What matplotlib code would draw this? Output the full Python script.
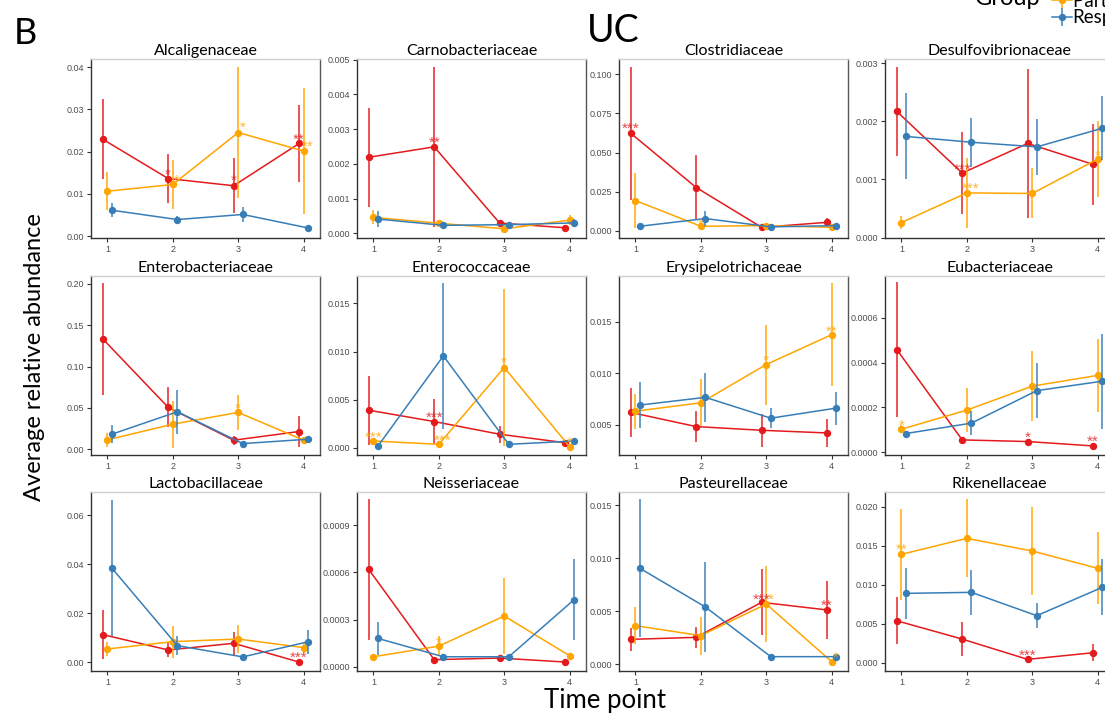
import numpy as np
import matplotlib.pyplot as plt
from matplotlib.colors import to_rgba

plt.rcParams['font.family'] = ['Lato', 'DejaVu Sans']

W, H = 1105, 720

TIME_POINTS = [1, 2, 3, 4]
GROUPS = ["Non-responder", "Partial responder", "Responder"]
GROUP_COLORS = ["#E41A1C", "#FFA500", "#377EB8"]
DODGE = [-0.07, 0.0, 0.07]

FAMILIES = ["Alcaligenaceae", "Carnobacteriaceae", "Clostridiaceae", "Desulfovibrionaceae",
            "Enterobacteriaceae", "Enterococcaceae", "Erysipelotrichaceae", "Eubacteriaceae",
            "Lactobacillaceae", "Neisseriaceae", "Pasteurellaceae", "Rikenellaceae"]

# mean relative abundance per group (rows: non-resp, partial, responder) and time point
alcaligenaceae_mean = [[0.0229, 0.0136, 0.0119, 0.0219],
                       [0.0106, 0.0122, 0.0245, 0.0201],
                       [0.0061, 0.0039, 0.0051, 0.0019]]
alcaligenaceae_se = [[0.0095, 0.0058, 0.0065, 0.0090],
                     [0.0045, 0.0057, 0.0154, 0.0149],
                     [0.0016, 0.0009, 0.0017, 0.0004]]

carnobacteriaceae_mean = [[0.00219, 0.00249, 0.000295, 0.00016],
                          [0.00046, 0.00029, 0.00013, 0.00038],
                          [0.00041, 0.00023, 0.00025, 0.00030]]
carnobacteriaceae_se = [[0.00143, 0.0023, 0.00005, 0.00002],
                        [0.00020, 0.00008, 0.00004, 0.00015],
                        [0.00023, 0.00005, 0.00007, 0.00010]]

clostridiaceae_mean = [[0.0623, 0.0277, 0.0023, 0.0055],
                       [0.0194, 0.0030, 0.0034, 0.0023],
                       [0.0030, 0.0079, 0.0026, 0.0034]]
clostridiaceae_se = [[0.0425, 0.0205, 0.0008, 0.0030],
                     [0.0175, 0.0015, 0.0010, 0.0008],
                     [0.0005, 0.0048, 0.0006, 0.0008]]

desulfovibrionaceae_mean = [[0.00217, 0.00111, 0.00162, 0.00126],
                            [0.00026, 0.00077, 0.00076, 0.00135],
                            [0.00174, 0.00164, 0.00156, 0.00188]]
desulfovibrionaceae_se = [[0.00077, 0.00070, 0.00128, 0.00070],
                          [0.00011, 0.00060, 0.00043, 0.00065],
                          [0.00074, 0.00042, 0.00048, 0.00055]]

enterobacteriaceae_mean = [[0.1335, 0.0507, 0.0110, 0.0215],
                           [0.0114, 0.0304, 0.0446, 0.0110],
                           [0.0183, 0.0454, 0.0069, 0.0122]]
enterobacteriaceae_se = [[0.0674, 0.0243, 0.0053, 0.0189],
                         [0.0088, 0.0285, 0.0210, 0.0035],
                         [0.0110, 0.0268, 0.0020, 0.0040]]

enterococcaceae_mean = [[0.0039, 0.00272, 0.0014, 0.00052],
                        [0.0007, 0.00035, 0.00834, 0.0001],
                        [0.00017, 0.00955, 0.00035, 0.0007]]
enterococcaceae_se = [[0.0036, 0.0023, 0.0009, 0.0003],
                      [0.0003, 0.0001, 0.0082, 0.00005],
                      [0.0001, 0.0076, 0.0001, 0.0003]]

erysipelotrichaceae_mean = [[0.00618, 0.0048, 0.00444, 0.00418],
                            [0.0063, 0.00712, 0.01085, 0.01376],
                            [0.0069, 0.00765, 0.00562, 0.0066]]
erysipelotrichaceae_se = [[0.0024, 0.0015, 0.0016, 0.0014],
                          [0.0017, 0.0023, 0.0039, 0.0050],
                          [0.0022, 0.0024, 0.0010, 0.0016]]

eubacteriaceae_mean = [[0.000458, 0.0000553, 0.000048, 0.0000284],
                       [0.000103, 0.000188, 0.000295, 0.000343],
                       [0.0000838, 0.00013, 0.000275, 0.000317]]
eubacteriaceae_se = [[0.0003, 0.000005, 0.000005, 0.000004],
                     [0.000018, 0.0000975, 0.000155, 0.000162],
                     [0.00001, 0.000055, 0.000124, 0.000211]]

lactobacillaceae_mean = [[0.0113, 0.00503, 0.00776, 0.0001],
                         [0.00544, 0.00843, 0.0095, 0.0060],
                         [0.0384, 0.0068, 0.0022, 0.0084]]
lactobacillaceae_se = [[0.0101, 0.0027, 0.0048, 0.0003],
                       [0.0030, 0.0065, 0.0059, 0.0023],
                       [0.0277, 0.0040, 0.0005, 0.0049]]

neisseriaceae_mean = [[0.000618, 0.000045, 0.000055, 0.00003],
                      [0.0000635, 0.000131, 0.000322, 0.00007],
                      [0.00018, 0.0000635, 0.0000635, 0.000427]]
neisseriaceae_se = [[0.000447, 0.00001, 0.00001, 0.000005],
                    [0.000008, 0.0000615, 0.000244, 0.000008],
                    [0.000104, 0.000008, 0.000008, 0.000259]]

pasteurellaceae_mean = [[0.00235, 0.00254, 0.00584, 0.00512],
                        [0.00364, 0.0027, 0.00568, 0.00025],
                        [0.00904, 0.0054, 0.00072, 0.00072]]
pasteurellaceae_se = [[0.0011, 0.0010, 0.0031, 0.0027],
                      [0.00175, 0.0018, 0.0036, 0.0001],
                      [0.0065, 0.0042, 0.0001, 0.0001]]

rikenellaceae_mean = [[0.00538, 0.00303, 0.00043, 0.00128],
                      [0.01389, 0.01594, 0.01432, 0.0121],
                      [0.00889, 0.00902, 0.00603, 0.00966]]
rikenellaceae_se = [[0.0030, 0.0022, 0.0002, 0.0011],
                    [0.0058, 0.0050, 0.0057, 0.0046],
                    [0.0033, 0.0029, 0.0016, 0.0036]]

MEANS = [alcaligenaceae_mean, carnobacteriaceae_mean, clostridiaceae_mean, desulfovibrionaceae_mean,
         enterobacteriaceae_mean, enterococcaceae_mean, erysipelotrichaceae_mean, eubacteriaceae_mean,
         lactobacillaceae_mean, neisseriaceae_mean, pasteurellaceae_mean, rikenellaceae_mean]
SES = [alcaligenaceae_se, carnobacteriaceae_se, clostridiaceae_se, desulfovibrionaceae_se,
       enterobacteriaceae_se, enterococcaceae_se, erysipelotrichaceae_se, eubacteriaceae_se,
       lactobacillaceae_se, neisseriaceae_se, pasteurellaceae_se, rikenellaceae_se]

# free y scales: limits, ticks and decimals per family
Y_LIMITS = [(-0.00047, 0.0419), (-0.000135, 0.00502), (-0.0045, 0.1097), (-0.000005, 0.00307),
            (-0.0069, 0.2096), (-0.00076, 0.01786), (0.00203, 0.01948), (-0.000012, 0.000786),
            (-0.00355, 0.0695), (-0.000027, 0.00111), (-0.00063, 0.01623), (-0.00106, 0.02188)]
Y_TICKS = [[0, 0.01, 0.02, 0.03, 0.04], [0, 0.001, 0.002, 0.003, 0.004, 0.005],
           [0, 0.025, 0.05, 0.075, 0.1], [0, 0.001, 0.002, 0.003],
           [0, 0.05, 0.1, 0.15, 0.2], [0, 0.005, 0.01, 0.015],
           [0.005, 0.01, 0.015], [0, 0.0002, 0.0004, 0.0006],
           [0, 0.02, 0.04, 0.06], [0, 0.0003, 0.0006, 0.0009],
           [0, 0.005, 0.01, 0.015], [0, 0.005, 0.01, 0.015, 0.02]]
Y_DECIMALS = [2, 3, 3, 3, 2, 3, 3, 4, 2, 4, 3, 3]

# significance marks: (family index, group index, time point, y, label)
STARS = [
    (0, 0, 2, 0.0155, "*"), (0, 0, 3, 0.0140, "*"), (0, 0, 4, 0.0237, "**"),
    (0, 1, 2, 0.0142, "*"), (0, 1, 3, 0.0266, "*"), (0, 1, 4, 0.0221, "**"),
    (1, 0, 2, 0.00274, "**"),
    (2, 0, 1, 0.0677, "***"), (2, 1, 2, 0.0065, "*"),
    (3, 0, 2, 0.00124, "***"), (3, 1, 2, 0.00092, "***"), (3, 1, 4, 0.00148, "*"),
    (4, 1, 3, 0.0548, "*"),
    (5, 0, 2, 0.00356, "***"), (5, 1, 1, 0.0015, "***"), (5, 1, 2, 0.00115, "***"),
    (5, 1, 3, 0.00925, "*"), (5, 1, 4, 0.00098, "*"),
    (6, 1, 3, 0.01167, "*"), (6, 1, 4, 0.01451, "**"),
    (7, 1, 1, 0.000138, "*"), (7, 0, 3, 0.0000853, "*"), (7, 0, 4, 0.0000658, "**"),
    (8, 0, 4, 0.0037, "***"),
    (9, 1, 2, 0.00018, "*"),
    (10, 0, 3, 0.00653, "***"), (10, 1, 3, 0.00653, "*"), (10, 0, 4, 0.0059, "**"),
    (10, 1, 4, 0.00104, "*"),
    (11, 1, 1, 0.0150, "**"), (11, 0, 3, 0.00141, "***"),
]

# panel grid in pixels
COL_LEFT = [91, 357, 619, 885]
ROW_TOP = [59, 276, 492]
PANEL_W, PANEL_H = 229, 179

fig = plt.figure(figsize=(W / 100, H / 100), dpi=100)

handles = None
for k, fam in enumerate(FAMILIES):
    row, col = divmod(k, 4)
    left, top = COL_LEFT[col], ROW_TOP[row]
    ax = fig.add_axes([left / W, 1 - (top + PANEL_H) / H, PANEL_W / W, PANEL_H / H])

    conts = []
    for g in range(3):
        x = np.array(TIME_POINTS) + DODGE[g]
        c = ax.errorbar(x, MEANS[k][g], yerr=SES[k][g], fmt='-o', color=GROUP_COLORS[g],
                        ecolor=to_rgba(GROUP_COLORS[g], 0.75), lw=1.1, ms=4.3,
                        elinewidth=1.4, capsize=0, zorder=2 + g * 0.1)
        conts.append(c)
    if handles is None:
        handles = conts

    # stars sit just above the mean they refer to; partial-group stars nudge
    # right when a non-responder star shares the time point
    red_spots = {(s[0], s[2]) for s in STARS if s[1] == 0}
    for fi, g, t, y, lab in STARS:
        if fi != k:
            continue
        dx = 3 if (g == 1 and (fi, t) in red_spots) else 0
        ax.annotate(lab, (t + DODGE[g], y), xytext=(dx, -6), textcoords='offset points',
                    ha='center', va='baseline', fontsize=11, color=GROUP_COLORS[g],
                    alpha=0.8, family='Liberation Sans', zorder=5)

    ax.set_xlim(0.75, 4.25)
    ax.set_ylim(*Y_LIMITS[k])
    ax.set_xticks(TIME_POINTS)
    ax.set_xticklabels([str(t) for t in TIME_POINTS])
    ax.set_yticks(Y_TICKS[k])
    ax.set_yticklabels([f"{v:.{Y_DECIMALS[k]}f}" for v in Y_TICKS[k]])
    for lbl in ax.get_xticklabels() + ax.get_yticklabels():
        lbl.set_family('Liberation Sans')
    ax.tick_params(length=3, width=0.8, color='#333333', labelsize=6.5,
                   labelcolor='#4d4d4d', pad=2)
    ax.spines['left'].set_color('#333333')
    ax.spines['bottom'].set_color('#333333')
    ax.spines['top'].set_color('#d0d0d0')
    ax.spines['right'].set_color('#555555')
    for s in ax.spines.values():
        s.set_linewidth(1.0)
    ax.set_title(fam, fontsize=11.5, pad=3)

fig.text(14 / W, 1 - 44 / H, "B", fontsize=26, ha='left', va='baseline')
fig.text(587 / W, 1 - 42 / H, "UC", fontsize=27, ha='left', va='baseline')
fig.text(605 / W, 1 - 708 / H, "Time point", fontsize=18.5, ha='center', va='baseline')
fig.text(35 / W, 1 - 357 / H, "Average relative abundance", rotation=90, fontsize=17,
         ha='center', va='center')

fig.text(975 / W, 1 - 5 / H, "Group", fontsize=17, ha='left', va='baseline')
fig.legend(handles, GROUPS, loc='center left', bbox_to_anchor=(1052 / W, 1 - 1 / H),
           frameon=False, borderpad=0, borderaxespad=0, handlelength=1.05,
           handletextpad=0.05, labelspacing=0, fontsize=13.5)

fig.savefig("out.png", dpi=100)
